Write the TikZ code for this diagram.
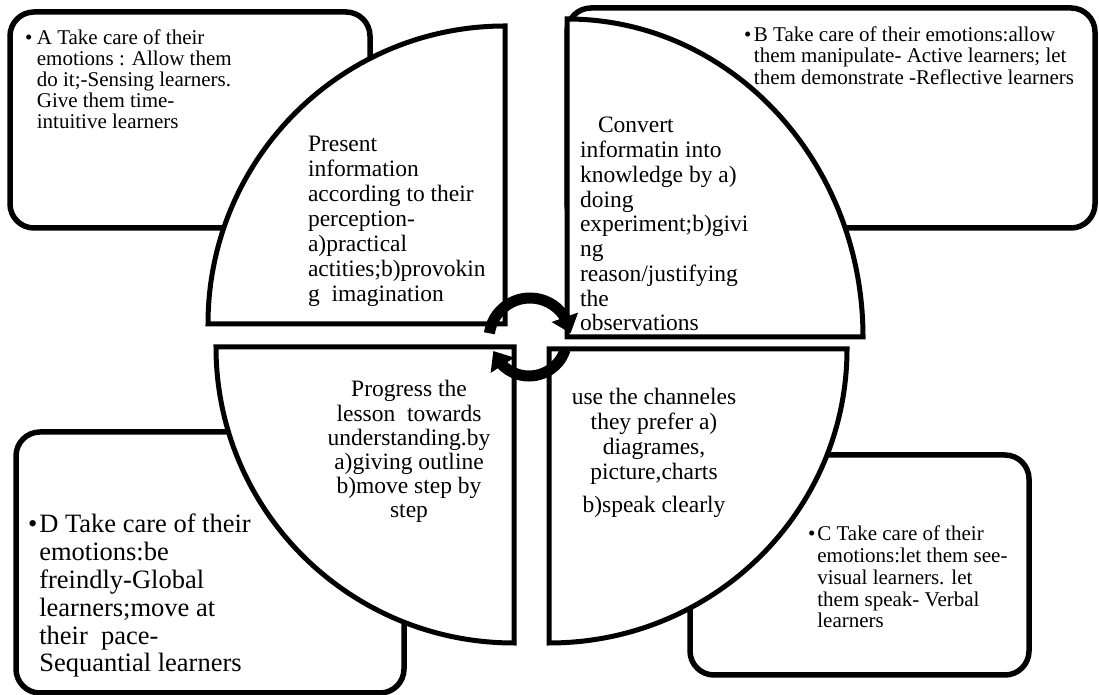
\documentclass[tikz,border=0pt]{standalone}
\usepackage{fontspec}
\setmainfont{Liberation Serif}
\usetikzlibrary{arrows.meta,bending}
\newcommand{\leftlines}[1]{\begin{tabular}[t]{@{}l@{}}#1\end{tabular}}
\newcommand{\midlines}[1]{\begin{tabular}[t]{@{}c@{}}#1\end{tabular}}
\newcommand{\bulletlines}[2]{\begin{tabular}[t]{@{}l@{\hspace{#1}}l@{}}#2\end{tabular}}
\begin{document}
\begin{tikzpicture}[x=1pt,y=1pt,
  quad/.style={draw=black, line width=5pt, fill=white},
  infobox/.style={draw=black, line width=5.5pt, fill=white, rounded corners=24pt},
  cyc/.style={draw=black, line width=11pt, -{Triangle[width=27pt,length=17pt]}},
  txt/.style={inner sep=0pt, outer sep=0pt}]
\useasboundingbox (0,0) rectangle (1099,695);

% boxes behind the quadrants
\draw[infobox] (10,467) rectangle (370,683);
\draw[infobox] (567,467) rectangle (1095,687);
\draw[infobox] (690,20) rectangle (1029,240);
\draw[infobox] (16,2) rectangle (404,263);

% quadrants
\draw[quad] (505,371) -- (208,371) arc[start angle=180,end angle=90,x radius=297,y radius=298] -- cycle;
\draw[quad] (567,358) -- (567,676) arc[start angle=90,end angle=0,x radius=296,y radius=318] -- cycle;
\draw[quad] (514,348) -- (216,348) arc[start angle=180,end angle=270,x radius=298,y radius=296] -- cycle;
\draw[quad] (549,346) -- (847,346) arc[start angle=0,end angle=-90,x radius=298,y radius=294] -- cycle;

% circular arrows
\coordinate (ctop) at (530,356);
\coordinate (cbot) at (529,357);
\draw[cyc] (ctop) ++(172:41) arc[start angle=172,end angle=8,radius=41];
\draw[cyc] (cbot) ++(-18:38) arc[start angle=-18,end angle=-160,radius=38];

% box texts
\node[txt, anchor=base west, font=\fontsize{21}{20.8}\selectfont] (boxA) at (25,650)
  {\bulletlines{4.5pt}{\textbullet & A Take care of their\\ & emotions : Allow them\\ & do it;-Sensing learners.\\ & Give them time-\\ & intuitive learners}};
\node[txt, anchor=base west, font=\fontsize{21}{21}\selectfont] (boxB) at (744,653)
  {\bulletlines{2.6pt}{\textbullet & B Take care of their emotions:allow\\ & them manipulate- Active learners; let\\ & them demonstrate -Reflective learners}};
\node[txt, anchor=base west, font=\fontsize{21}{21.7}\selectfont] (boxC) at (808,154)
  {\bulletlines{2pt}{\textbullet & C Take care of their\\ & emotions:let them see-\\ & visual learners. let\\ & them speak- Verbal\\ & learners}};
\node[txt, anchor=base west, font=\fontsize{26.5}{27.8}\selectfont] (boxD) at (28,162)
  {\bulletlines{2pt}{\textbullet & D Take care of their\\ & emotions:be\\ & freindly-Global\\ & learners;move at\\ & their~~pace-\\ & Sequantial learners}};

% quadrant texts
\node[txt, anchor=base west, font=\fontsize{23.5}{25}\selectfont] (quadA) at (308,543)
  {\leftlines{Present\\ information\\ according to their\\ perception-\\ a)practical\\ actities;b)provokin\\ g~~imagination}};
\node[txt, anchor=base west, font=\fontsize{23.5}{24.75}\selectfont] (quadB) at (580,562)
  {\leftlines{\hspace{18pt}Convert\\ informatin into\\ knowledge by a)\\ doing\\ experiment;b)givi\\ ng\\ reason/justifying\\ the\\ observations}};
\node[txt, anchor=base, font=\fontsize{23.5}{24.7}\selectfont] (quadC) at (654,290)
  {\midlines{use the channeles\\ they prefer a)\\ diagrames,\\ picture,charts\\[9pt] b)speak clearly}};
\node[txt, anchor=base, font=\fontsize{23.5}{24.2}\selectfont] (quadD) at (409,298)
  {\midlines{Progress the\\ lesson~~towards\\ understanding.by\\ a)giving outline\\ b)move step by\\ step}};
\end{tikzpicture}
\end{document}
